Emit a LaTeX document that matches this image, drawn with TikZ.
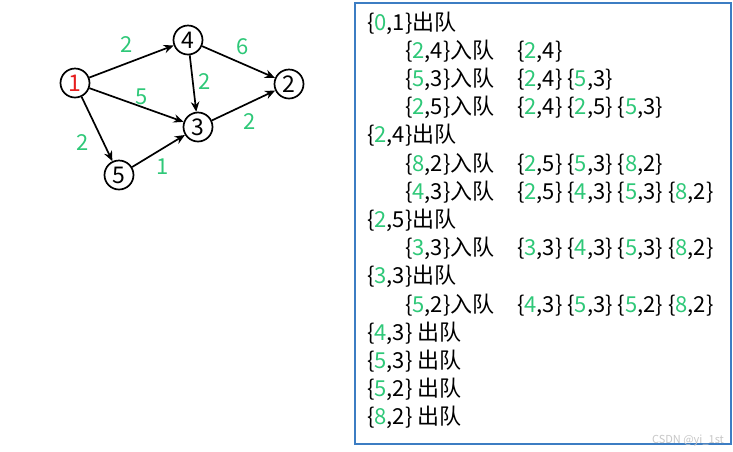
\documentclass[tikz,border=0pt]{standalone}
\usepackage{fontspec}
\setmainfont{Noto Sans CJK SC}
\usetikzlibrary{arrows.meta}
\definecolor{gr}{RGB}{46,200,120}
\definecolor{rd}{RGB}{230,30,30}
\definecolor{bx}{RGB}{60,125,195}
\newcommand{\g}[1]{\textcolor{gr}{#1}}
\tikzset{
  vert/.style={circle,draw=black,line width=1.7pt,minimum size=29pt,inner sep=0pt,font=\fontsize{23}{23}\selectfont},
  edge/.style={line width=1.7pt,-{Stealth[length=10pt,width=8.5pt]}},
  wlab/.style={text=gr,font=\fontsize{22}{22}\selectfont,inner sep=0pt},
  row/.style={anchor=base west,inner sep=0pt,font=\fontsize{22}{22}\selectfont}
}
\begin{document}
\begin{tikzpicture}[x=1pt,y=-1pt]
\useasboundingbox (0,0) rectangle (733,451);
\fill[white] (0,0) rectangle (733,451);
% graph
\node[vert,text=rd] (n1) at (75,83) {1};
\node[vert] (n4) at (188,40) {4};
\node[vert] (n2) at (289,84) {2};
\node[vert] (n3) at (198,127) {3};
\node[vert] (n5) at (119,175) {5};
\draw[edge] (n1) -- (n4);
\draw[edge] (n4) -- (n2);
\draw[edge] (n4) -- (n3);
\draw[edge] (n1) -- (n3);
\draw[edge] (n1) -- (n5);
\draw[edge] (n5) -- (n3);
\draw[edge] (n3) -- (n2);
\node[wlab] (w14) at (127,45) {2};
\node[wlab] (w42) at (243,47) {6};
\node[wlab] (w43) at (205,82) {2};
\node[wlab] (w13) at (142,97) {5};
\node[wlab] (w15) at (83,143) {2};
\node[wlab] (w53) at (163,167) {1};
\node[wlab] (w32) at (250,122) {2};
% box
\draw[bx,line width=1.4pt] (355,3) rectangle (731,444);
\node[row] (r1) at (367,30) {\{\g{0},1\}出队};
\node[row] (r2a) at (405,58.2) {\{\g{2},4\}入队};
\node[row] (r2b) at (517,58.2) {\{\g{2},4\}};
\node[row] (r3a) at (405,86.4) {\{\g{5},3\}入队};
\node[row] (r3b) at (517,86.4) {\{\g{2},4\} \{\g{5},3\}};
\node[row] (r4a) at (405,114.6) {\{\g{2},5\}入队};
\node[row] (r4b) at (517,114.6) {\{\g{2},4\} \{\g{2},5\} \{\g{5},3\}};
\node[row] (r5) at (367,142.8) {\{\g{2},4\}出队};
\node[row] (r6a) at (405,171) {\{\g{8},2\}入队};
\node[row] (r6b) at (517,171) {\{\g{2},5\} \{\g{5},3\} \{\g{8},2\}};
\node[row] (r7a) at (405,199.2) {\{\g{4},3\}入队};
\node[row] (r7b) at (517,199.2) {\{\g{2},5\} \{\g{4},3\} \{\g{5},3\} \{\g{8},2\}};
\node[row] (r8) at (367,227.4) {\{\g{2},5\}出队};
\node[row] (r9a) at (405,255.6) {\{\g{3},3\}入队};
\node[row] (r9b) at (517,255.6) {\{\g{3},3\} \{\g{4},3\} \{\g{5},3\} \{\g{8},2\}};
\node[row] (r10) at (367,283.8) {\{\g{3},3\}出队};
\node[row] (r11a) at (405,312) {\{\g{5},2\}入队};
\node[row] (r11b) at (517,312) {\{\g{4},3\} \{\g{5},3\} \{\g{5},2\} \{\g{8},2\}};
\node[row] (r12) at (367,340.2) {\{\g{4},3\} 出队};
\node[row] (r13) at (367,368.4) {\{\g{5},3\} 出队};
\node[row] (r14) at (367,396.6) {\{\g{5},2\} 出队};
\node[row] (r15) at (367,424.8) {\{\g{8},2\} 出队};
\node[anchor=base east,inner sep=0pt,text=black!22,font=\fontsize{11}{11}\selectfont] (wm) at (724,443) {CSDN @yi\_1st};
\end{tikzpicture}
\end{document}
